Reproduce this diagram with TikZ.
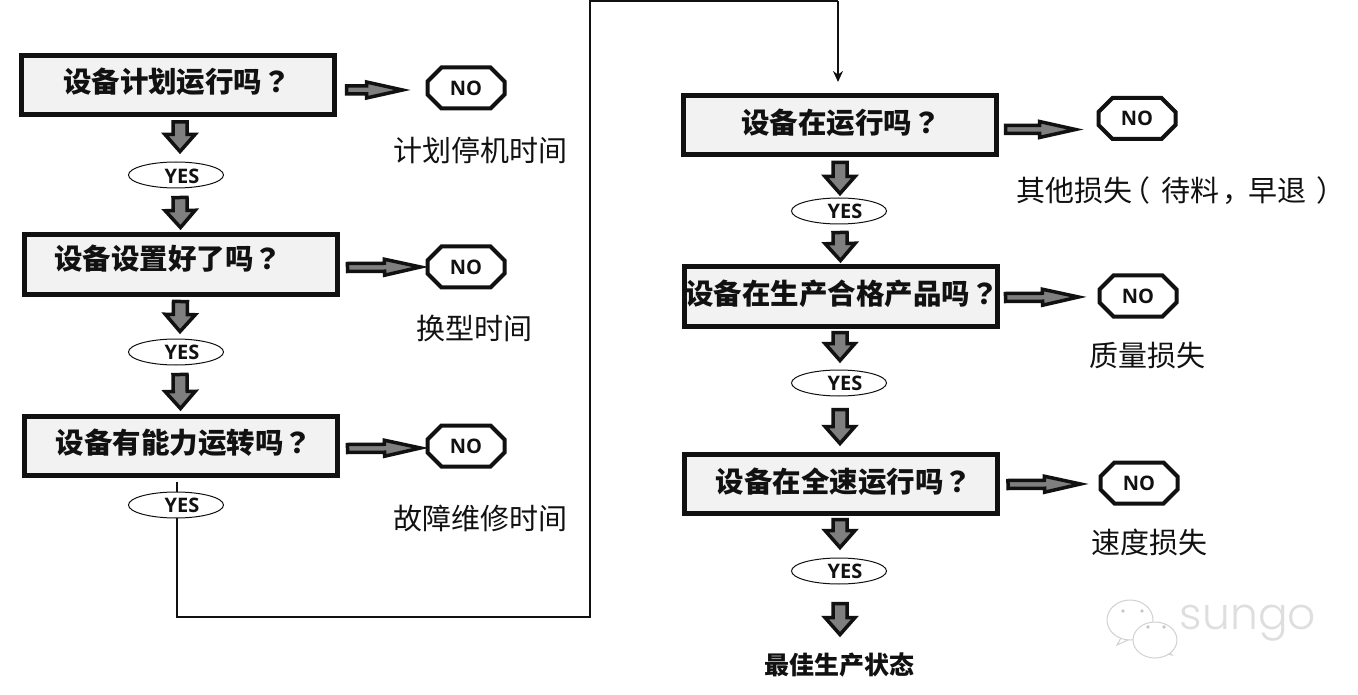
\documentclass[tikz,border=0pt]{standalone}
\usepackage{fontspec}
\setmainfont{Open Sans}
\newfontfamily\cjk{Noto Sans CJK SC}
\newfontfamily\cjkp{Noto Sans CJK TC}
\newfontfamily\wm{Poppins Light}
\usetikzlibrary{shapes.geometric,shapes.misc,calc,arrows.meta}
\newcommand\fs[1]{\fontsize{#1}{#1}\selectfont}
\newcommand\qm{{\cjkp\bfseries ？}}
\newcommand\lpar{\hspace{-.37em}（\hspace{.37em}}
\newcommand\rpar{\hspace{.37em}）\hspace{-.37em}}
\newcommand\comm{\hspace{.12em}，\hspace{-.12em}}
\definecolor{boxfill}{HTML}{F2F2F2}
\definecolor{arrowgray}{HTML}{7F7F7F}
\definecolor{ink}{HTML}{111111}
\tikzset{
  x=1pt,y=-1pt,
  qbox/.style={draw=ink,line width=5pt,fill=boxfill,minimum width=313pt,minimum height=59pt,inner sep=0pt},
  qtext/.style={font=\cjk\bfseries\fs{28.5},text=ink,inner sep=0pt},
  yesnode/.style={draw=ink,line width=1pt,fill=white,ellipse,minimum width=95pt,minimum height=26pt,inner sep=0pt},
  yestext/.style={font=\bfseries\fs{20},text=ink,inner sep=0pt},
  nonode/.style={draw=ink,line width=4pt,fill=white,chamfered rectangle,chamfered rectangle xsep=7pt,chamfered rectangle ysep=7pt,minimum width=77pt,minimum height=41pt,inner sep=0pt,font=\bfseries\fs{20},text=ink},
  losstext/.style={font=\cjk\fs{29},text=ink,inner sep=0pt},
  blockarrow/.style={draw=ink,line width=3.5pt,fill=arrowgray,line join=miter},
  flowline/.style={draw=ink,line width=1.5pt},
  wmark/.style={draw=black!18,line width=1pt,fill=white},
}
% from, to, half shaft, half head, head length
\newcommand\barrow[5]{%
  \coordinate (bs) at ($(#2)!#5!(#1)$);
  \draw[blockarrow] ($(#1)!#3!90:(#2)$) -- ($(bs)!#3!90:(#2)$) -- ($(bs)!#4!90:(#2)$) -- (#2)
    -- ($(bs)!#4!-90:(#2)$) -- ($(bs)!#3!-90:(#2)$) -- ($(#1)!#3!-90:(#2)$) -- cycle;
}
\newcommand\varrow[2]{\barrow{#1}{#2}{7pt}{15pt}{17pt}}
\newcommand\harrow[2]{\barrow{#1}{#2}{4pt}{8pt}{36pt}}
\begin{document}
\begin{tikzpicture}
\useasboundingbox (0,0) rectangle (1358,695);
% watermark
\draw[wmark] (1122,636) -- (1117,645) -- (1130,639) -- cycle;
\node[wmark,ellipse,minimum width=46pt,minimum height=40pt,inner sep=0pt] (wa) at (1130,620) {};
\draw[wmark] (1167,650) -- (1172,655) -- (1160,652) -- cycle;
\node[wmark,ellipse,minimum width=44pt,minimum height=36pt,inner sep=0pt] (wb) at (1155,640) {};
\foreach \ex/\ey in {1123/611,1142/611,1148/627,1164/627}
  \fill[black!22] (\ex,\ey) circle (1.8pt);
\node[font=\wm\fs{44},text=black!13,inner sep=0pt] (wt) at (1248,623) {sungo};

% flow line behind the YES ellipse
\coordinate (c1) at (177,617);
\coordinate (c2) at (590,617);
\coordinate (c3) at (590,1);
\coordinate (c4) at (838,1);

% left column
\node[qbox] (b1) at (177.5,85) {};
\node[qtext] (t1) at (177,82) {设备计划运行吗\qm};
\node[yesnode] (y1) at (176,175) {};
\node[yestext] (yt1) at (182,176) {YES};
\node[qbox] (b2) at (180.5,264.5) {};
\node[qtext] (t2) at (168,259) {设备设置好了吗\qm};
\node[yesnode] (y2) at (176,352) {};
\node[yestext] (yt2) at (182,352) {YES};
\node[qbox] (b3) at (180.5,445.5) {};
\node[qtext] (t3) at (184,443) {设备有能力运转吗\qm};
\draw[flowline] (b3.south -| c1) ++(0,4) -- (c1) -- (c2) -- (c3) -- (c4);
\node[yesnode] (y3) at (176,505) {};
\node[yestext] (yt3) at (182,505) {YES};

% right column
\node[qbox] (b4) at (839.5,125.5) {};
\node[qtext] (t4) at (841,123) {设备在运行吗\qm};
\node[yesnode] (y4) at (839,211) {};
\node[yestext] (yt4) at (845,211) {YES};
\node[qbox] (b5) at (840.5,296.5) {};
\node[qtext] (t5) at (842,294) {设备在生产合格产品吗\qm};
\node[yesnode] (y5) at (839,383) {};
\node[yestext] (yt5) at (845,383) {YES};
\node[qbox] (b6) at (841,483.5) {};
\node[qtext] (t6) at (844,482) {设备在全速运行吗\qm};
\node[yesnode] (y6) at (839,571) {};
\node[yestext] (yt6) at (845,571) {YES};
\node[font=\cjk\bfseries\fs{25},text=ink,inner sep=0pt] (end) at (839,665) {最佳生产状态};
\coordinate (e4) at (838,82);
\draw[flowline,-{Stealth[length=11pt,width=10pt]}] (c4) -- (e4);

% NO nodes and loss labels
\node[nonode] (n1) at (466,88) {NO};
\node[losstext] (l1) at (480,150) {计划停机时间};
\node[nonode] (n2) at (466,267) {NO};
\node[losstext] (l2) at (474,328) {换型时间};
\node[nonode] (n3) at (466,446) {NO};
\node[losstext] (l3) at (480,518) {故障维修时间};
\node[nonode] (n4) at (1137,118.5) {NO};
\node[losstext] (l4) at (1181,191) {其他损失\lpar 待料\comm 早退\rpar};
\node[nonode] (n5) at (1138,296) {NO};
\node[losstext] (l5) at (1147,356) {质量损失};
\node[nonode] (n6) at (1139,483) {NO};
\node[losstext] (l6) at (1149,542) {速度损失};

% vertical block arrows
\varrow{$(b1.south)+(2.5,5)$}{$(y1.north)+(4,-10)$}
\varrow{$(y1.south)+(4,9)$}{$(b2.north)+(0,-5)$}
\varrow{$(b2.south)+(0,5)$}{$(y2.north)+(4,-7)$}
\varrow{$(y2.south)+(4,9)$}{$(b3.north)+(0,-5)$}
\varrow{$(b4.south)+(0.5,5)$}{$(y4.north)+(1,-4)$}
\varrow{$(y4.south)+(1,8)$}{$(b5.north)+(0,-4)$}
\varrow{$(b5.south)+(-0.5,4)$}{$(y5.north)+(1,-9)$}
\varrow{$(y5.south)+(1,13)$}{$(b6.north)+(-1,-8)$}
\varrow{$(b6.south)+(-1,4)$}{$(y6.north)+(1,-10)$}
\varrow{$(y6.south)+(1,19)$}{$(end.north)+(1,-18)$}

% horizontal block arrows
\harrow{$(b1.east)+(10,5)$}{$(n1.west)+(-23,2)$}
\harrow{$(b2.east)+(8,3)$}{$(n2.west)+(-5,0)$}
\harrow{$(b3.east)+(8,3)$}{$(n3.west)+(-5,2)$}
\harrow{$(b4.east)+(7,4)$}{$(n4.west)+(-21,11)$}
\harrow{$(b5.east)+(6,1)$}{$(n5.west)+(-19,1)$}
\harrow{$(b6.east)+(8,1)$}{$(n6.west)+(-18,1)$}
\end{tikzpicture}
\end{document}
